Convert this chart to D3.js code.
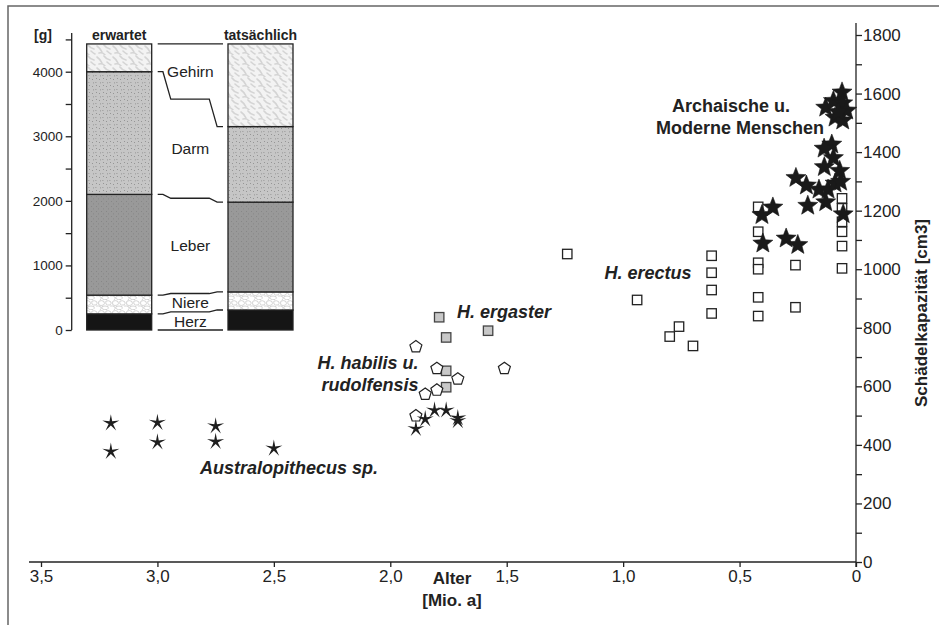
<!DOCTYPE html>
<html>
<head>
<meta charset="utf-8">
<script src="https://cdn.jsdelivr.net/npm/d3@7"></script>
<style>
  body { margin: 0; background: #fff; }
  text { font-family: "Liberation Sans", Arial, sans-serif; fill: #222; }
  .axis path, .axis line { stroke: #222; stroke-width: 1.3; }
  .axis text { font-family: "Liberation Sans", Arial, sans-serif; fill: #222; }
</style>
</head>
<body>
<script>
// ---- inset: organ masses [g]
const organs = ["Herz", "Niere", "Leber", "Darm", "Gehirn"];
const massExpected = [250, 290, 1560, 1900, 430];
const massActual = [310, 280, 1390, 1170, 1280];
const barNames = ["erwartet", "tatsächlich"];
const gramTicks = [0, 1000, 2000, 3000, 4000];
const gramMinor = [500, 1500, 2500, 3500, 4500];

// ---- main chart: age [Mio. a] vs. cranial capacity [cm3]
const australoAge = [3.2, 3.2, 3.0, 3.0, 2.75, 2.75, 2.5];
const australoCap = [474, 377, 476, 409, 464, 411, 388];

const habilisStarAge = [1.89, 1.85, 1.81, 1.76, 1.71, 1.71];
const habilisStarCap = [455, 488, 518, 518, 492, 482];

const habilisPentAge = [1.89, 1.80, 1.71, 1.51, 1.80, 1.85, 1.89];
const habilisPentCap = [735, 661, 625, 661, 587, 573, 499];

const ergasterAge = [1.79, 1.76, 1.58, 1.76, 1.76];
const ergasterCap = [836, 767, 790, 653, 597];

const erectusAge = [1.24, 0.94, 0.76, 0.80, 0.70, 0.62, 0.62, 0.62, 0.62,
  0.42, 0.42, 0.42, 0.42, 0.42, 0.42, 0.26, 0.26,
  0.06, 0.06, 0.06, 0.06, 0.06, 0.06];
const erectusCap = [1052, 895, 804, 770, 738, 1046, 988, 929, 849,
  1213, 1128, 1022, 1000, 904, 840, 1014, 870,
  1242, 1208, 1162, 1128, 1079, 1003];

const modernAge = [0.06, 0.13, 0.097, 0.057, 0.04, 0.09, 0.057, 0.076,
  0.104, 0.137, 0.097, 0.136, 0.07, 0.258, 0.213, 0.159, 0.12, 0.09, 0.066,
  0.207, 0.13, 0.055, 0.357, 0.404, 0.40, 0.30, 0.25];
const modernCap = [1604, 1552, 1575, 1567, 1542, 1518, 1508, 1537,
  1426, 1412, 1380, 1349, 1336, 1312, 1286, 1272, 1272, 1293, 1299,
  1217, 1229, 1188, 1211, 1185, 1088, 1105, 1083];

const ageTicks = [3.5, 3.0, 2.5, 2.0, 1.5, 1.0, 0.5, 0];
const capTicks = [0, 200, 400, 600, 800, 1000, 1200, 1400, 1600, 1800];
const capMinor = [100, 300, 500, 700, 900, 1100, 1300, 1500, 1700];

const width = 939, height = 625;

const svg = d3.select("body").append("svg")
  .attr("width", width)
  .attr("height", height);

// frame (only top and left edge are visible)
svg.append("path")
  .attr("d", "M8,625 L8,6 L939,6")
  .attr("fill", "none")
  .attr("stroke", "#666")
  .attr("stroke-width", 1.5);

// ---------- patterns for the organ bars
const defs = svg.append("defs");

const brain = defs.append("pattern").attr("id", "pat-brain")
  .attr("patternUnits", "userSpaceOnUse").attr("width", 16).attr("height", 11);
brain.append("rect").attr("width", 16).attr("height", 11).attr("fill", "#f3f3f3");
brain.append("path").attr("d", "M1,2 q3,2 5,6 M8,1 q2,3 6,4 M3,9 q4,-1 6,2 M11,7 q2,2 4,3")
  .attr("fill", "none").attr("stroke", "#d4d4d4").attr("stroke-width", 1.6)
  .attr("stroke-linecap", "round");

const gut = defs.append("pattern").attr("id", "pat-gut")
  .attr("patternUnits", "userSpaceOnUse").attr("width", 7).attr("height", 7);
gut.append("rect").attr("width", 7).attr("height", 7).attr("fill", "#c6c6c6");
[[1, 2], [4.5, 5], [5, 1], [2, 5.5]].forEach(p => {
  gut.append("rect").attr("x", p[0]).attr("y", p[1]).attr("width", 0.8).attr("height", 0.8).attr("fill", "#7a7a7a");
});

const liver = defs.append("pattern").attr("id", "pat-liver")
  .attr("patternUnits", "userSpaceOnUse").attr("width", 5).attr("height", 5);
liver.append("rect").attr("width", 5).attr("height", 5).attr("fill", "#999");
[[1, 1], [3, 3.5]].forEach(p => {
  liver.append("rect").attr("x", p[0]).attr("y", p[1]).attr("width", 0.8).attr("height", 0.8).attr("fill", "#7d7d7d");
});

const kidney = defs.append("pattern").attr("id", "pat-kidney")
  .attr("patternUnits", "userSpaceOnUse").attr("width", 14).attr("height", 10);
kidney.append("rect").attr("width", 14).attr("height", 10).attr("fill", "#fff");
kidney.append("path")
  .attr("d", "M1,1 Q4,0 6,1.5 Q7,4 5.5,5 Q3,6 1,5 Q0,3 1,1 Z M8,1 Q11,0 13,2 Q13.5,4 12,5 Q9,5.5 8,4 Q7.5,2 8,1 Z M-2,6 Q1,5.5 3,7 Q3.5,9 2,10 M4,6.5 Q7,5.5 10,6.5 Q11,8.5 9,9.5 Q6,10 4.5,9 Q3.5,8 4,6.5 Z M12,6 Q15,5.5 16,7")
  .attr("fill", "none").attr("stroke", "#c2c2c2").attr("stroke-width", 0.7);

const organFill = {
  Herz: "#151515",
  Niere: "url(#pat-kidney)",
  Leber: "url(#pat-liver)",
  Darm: "url(#pat-gut)",
  Gehirn: "url(#pat-brain)"
};

// ---------- inset chart
const gy = d3.scaleLinear().domain([0, 4000]).range([330, 71.7]);
const gx = d3.scaleBand().domain(barNames).range([86.7, 293]).paddingInner(0.54).paddingOuter(0);

const inset = svg.append("g").attr("class", "inset");

inset.append("line")
  .attr("x1", 71.7).attr("x2", 71.7)
  .attr("y1", gy(0)).attr("y2", gy(4600))
  .attr("stroke", "#222").attr("stroke-width", 1.3);

const gAxis = inset.append("g").attr("class", "axis")
  .attr("transform", "translate(71.7,0)")
  .call(d3.axisLeft(gy).tickValues(gramTicks).tickSize(6).tickPadding(3).tickFormat(d3.format("d")));
gAxis.select(".domain").remove();
gAxis.selectAll("text").style("font-size", "13.5px");

const gMinor = inset.append("g").attr("class", "axis")
  .attr("transform", "translate(71.7,0)")
  .call(d3.axisLeft(gy).tickValues(gramMinor).tickSize(6).tickFormat(""));
gMinor.select(".domain").remove();

inset.append("text")
  .attr("x", 43).attr("y", 40)
  .attr("text-anchor", "middle")
  .style("font-size", "14px").style("font-weight", "bold")
  .text("[g]");

function stackOf(masses) {
  let acc = 0;
  return masses.map((m, i) => {
    const s = { organ: organs[i], y0: acc, y1: acc + m };
    acc += m;
    return s;
  });
}

const stacks = [stackOf(massExpected), stackOf(massActual)];

stacks.forEach((segs, bi) => {
  const name = barNames[bi];
  const g = inset.append("g");
  g.selectAll("rect")
    .data(segs)
    .enter()
    .append("rect")
    .attr("x", gx(name))
    .attr("width", gx.bandwidth())
    .attr("y", d => gy(d.y1))
    .attr("height", d => gy(d.y0) - gy(d.y1))
    .attr("fill", d => organFill[d.organ])
    .attr("stroke", "#222")
    .attr("stroke-width", 1.3);

  g.append("text")
    .attr("x", gx(name) + gx.bandwidth() / 2)
    .attr("y", 40)
    .attr("text-anchor", "middle")
    .style("font-size", "14px").style("font-weight", "bold")
    .text(name);
});

// connector lines between the two bars
const cx0 = gx(barNames[0]) + gx.bandwidth() + 6;
const cx1 = gx(barNames[1]) - 5;
const cw = cx1 - cx0;
const boundL = [0].concat(stacks[0].map(d => d.y1));
const boundR = [0].concat(stacks[1].map(d => d.y1));

const connector = d3.line()
  .x(d => cx0 + d.f * cw)
  .y(d => gy(d.v));

boundL.forEach((a, i) => {
  const b = boundR[i];
  const m = (a + b) / 2;
  const pts = [
    { f: 0, v: a }, { f: 0.08, v: a }, { f: 0.2, v: m },
    { f: 0.79, v: m }, { f: 0.91, v: b }, { f: 1, v: b }
  ];
  inset.append("path")
    .attr("d", connector(pts))
    .attr("fill", "none")
    .attr("stroke", "#222")
    .attr("stroke-width", 1.3);
});

// organ names between the bars
inset.selectAll(".organ-label")
  .data(organs)
  .enter()
  .append("text")
  .attr("class", "organ-label")
  .attr("x", (cx0 + cx1) / 2)
  .attr("y", (d, i) => {
    const l = stacks[0][i], r = stacks[1][i];
    return gy(((l.y0 + l.y1) / 2 + (r.y0 + r.y1) / 2) / 2);
  })
  .attr("dy", "0.36em")
  .attr("text-anchor", "middle")
  .style("font-size", "15.5px")
  .text(d => d);

// ---------- main chart
const x = d3.scaleLinear().domain([3.5, 0]).range([41, 856]);
const y = d3.scaleLinear().domain([0, 1800]).range([562, 35]);

svg.append("line")
  .attr("x1", 29).attr("x2", x(0))
  .attr("y1", y(0)).attr("y2", y(0))
  .attr("stroke", "#222").attr("stroke-width", 1.3);
svg.append("line")
  .attr("x1", x(0)).attr("x2", x(0))
  .attr("y1", y(0) + 5).attr("y2", 23)
  .attr("stroke", "#222").attr("stroke-width", 1.3);

const xAxis = svg.append("g").attr("class", "axis")
  .attr("transform", `translate(0,${y(0)})`)
  .call(d3.axisBottom(x).tickValues(ageTicks).tickSize(5).tickPadding(3)
    .tickFormat(d => d === 0 ? "0" : d3.format(".1f")(d).replace(".", ",")));
xAxis.select(".domain").remove();
xAxis.selectAll("text").style("font-size", "17px");

const yAxis = svg.append("g").attr("class", "axis")
  .attr("transform", `translate(${x(0)},0)`)
  .call(d3.axisRight(y).tickValues(capTicks).tickSize(6).tickPadding(1).tickFormat(d3.format("d")));
yAxis.select(".domain").remove();
yAxis.selectAll("text").style("font-size", "17px");

const yMinor = svg.append("g").attr("class", "axis")
  .attr("transform", `translate(${x(0)},0)`)
  .call(d3.axisRight(y).tickValues(capMinor).tickSize(6).tickFormat(""));
yMinor.select(".domain").remove();

svg.append("text")
  .attr("transform", "translate(927,313) rotate(-90)")
  .attr("text-anchor", "middle")
  .style("font-size", "17px").style("font-weight", "bold")
  .text("Schädelkapazität [cm3]");

svg.append("text")
  .attr("x", 452).attr("y", 584)
  .attr("text-anchor", "middle")
  .style("font-size", "17px").style("font-weight", "bold")
  .text("Alter");
svg.append("text")
  .attr("x", 452).attr("y", 606)
  .attr("text-anchor", "middle")
  .style("font-size", "17px").style("font-weight", "bold")
  .text("[Mio. a]");

// marker shapes
function starPath(n, R, r) {
  const pts = d3.range(2 * n).map(i => {
    const a = -Math.PI / 2 + i * Math.PI / n;
    const rad = i % 2 ? r : R;
    return [rad * Math.cos(a), rad * Math.sin(a)];
  });
  return "M" + pts.map(p => p.map(v => v.toFixed(2)).join(",")).join("L") + "Z";
}
function polyPath(n, R) {
  const pts = d3.range(n).map(i => {
    const a = -Math.PI / 2 + i * 2 * Math.PI / n;
    return [R * Math.cos(a), R * Math.sin(a)];
  });
  return "M" + pts.map(p => p.map(v => v.toFixed(2)).join(",")).join("L") + "Z";
}

const thinStar = starPath(5, 9, 2.3);
const fatStar = starPath(5, 10.5, 4.5);
const pentagon = polyPath(5, 6.3);

function plotMarkers(ages, caps, path, fill, stroke, sw) {
  svg.append("g")
    .selectAll("path")
    .data(ages.map((a, i) => ({ age: a, cap: caps[i] })))
    .enter()
    .append("path")
    .attr("transform", d => `translate(${x(d.age)},${y(d.cap)})`)
    .attr("d", path)
    .attr("fill", fill)
    .attr("stroke", stroke)
    .attr("stroke-width", sw);
}

function plotSquares(ages, caps, fill, stroke) {
  svg.append("g")
    .selectAll("rect")
    .data(ages.map((a, i) => ({ age: a, cap: caps[i] })))
    .enter()
    .append("rect")
    .attr("x", d => x(d.age) - 4.7)
    .attr("y", d => y(d.cap) - 4.7)
    .attr("width", 9.4)
    .attr("height", 9.4)
    .attr("fill", fill)
    .attr("stroke", stroke)
    .attr("stroke-width", 1.3);
}

plotSquares(erectusAge, erectusCap, "#fff", "#222");
plotSquares(ergasterAge, ergasterCap, "#c8c8c8", "#444");
plotMarkers(habilisPentAge, habilisPentCap, pentagon, "#fff", "#222", 1.2);
plotMarkers(australoAge, australoCap, thinStar, "#1e1e1e", "none", 0);
plotMarkers(habilisStarAge, habilisStarCap, thinStar, "#1e1e1e", "none", 0);
plotMarkers(modernAge, modernCap, fatStar, "#1a1a1a", "#1a1a1a", 0.6);

// group labels
function groupLabel(txt, lx, ly, italic, anchor) {
  svg.append("text")
    .attr("x", lx).attr("y", ly)
    .attr("text-anchor", anchor || "middle")
    .style("font-size", "18px")
    .style("font-weight", "bold")
    .style("font-style", italic ? "italic" : "normal")
    .text(txt);
}

groupLabel("Archaische u.", 731, 112, false);
groupLabel("Moderne Menschen", 740, 134, false);
groupLabel("H. erectus", 648, 279, true);
groupLabel("H. ergaster", 504, 318, true);
groupLabel("H. habilis u.", 368, 369, true);
groupLabel("rudolfensis", 370, 391, true);
groupLabel("Australopithecus sp.", 289, 474, true);
</script>
</body>
</html>
